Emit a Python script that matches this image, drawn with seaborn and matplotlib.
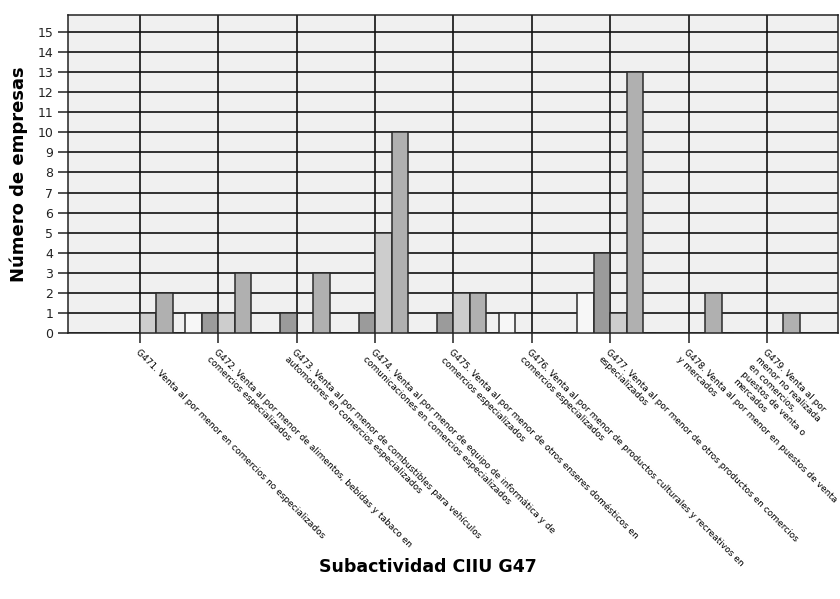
import matplotlib
matplotlib.use('Agg')
import matplotlib.pyplot as plt
import seaborn as sns
import pandas as pd

# categorias del eje x (subactividad CIIU G47)
subactividades = [
    'G471. Venta al por menor en comercios no especializados',
    'G472. Venta al por menor de alimentos, bebidas y tabaco en\ncomercios especializados',
    'G473. Venta al por menor de combustibles para vehículos\nautomotores en comercios especializados',
    'G474. Venta al por menor de equipo de informática y de\ncomunicaciones en comercios especializados',
    'G475. Venta al por menor de otros enseres domésticos en\ncomercios especializados',
    'G476. Venta al por menor de productos culturales y recreativos en\ncomercios especializados',
    'G477. Venta al por menor de otros productos en comercios\nespecializados',
    'G478. Venta al por menor en puestos de venta\ny mercados',
    'G479. Venta al por\nmenor no realizada\nen comercios,\npuestos de venta o\nmercados',
]
grupos = ['Grupo 1', 'Grupo 2', 'Grupo 3', 'Grupo 4']

# numero de empresas por grupo
serie_1 = [0, 1, 0, 0, 0, 1, 2, 0, 0]
serie_2 = [0, 1, 1, 1, 1, 0, 4, 0, 0]
serie_3 = [1, 1, 0, 5, 2, 0, 1, 0, 0]
serie_4 = [2, 3, 3, 10, 2, 0, 13, 2, 1]

colores = ['#F7F7F7', '#9B9B9B', '#CDCDCD', '#B0B0B0']

rows = []
for grupo, serie in zip(grupos, [serie_1, serie_2, serie_3, serie_4]):
    for sub, val in zip(subactividades, serie):
        rows.append({'subactividad': sub, 'grupo': grupo, 'empresas': val})
df = pd.DataFrame(rows)

fig = plt.figure(figsize=(8.4, 5.99), dpi=100)
ax = fig.add_axes([68 / 840, 1 - 333 / 599, (838 - 68) / 840, (333 - 15) / 599])
ax.set_facecolor('#F0F0F0')

sns.barplot(data=df, x='subactividad', y='empresas', hue='grupo',
            order=subactividades, hue_order=grupos, palette=colores,
            width=0.84, saturation=1, edgecolor='#2b2b2b', linewidth=1.1,
            legend=False, ax=ax, zorder=3)

ax.set_axisbelow(True)
ax.grid(True, axis='both', color='#111111', linewidth=1.2)
ax.set_ylim(0, 15.85)
ax.set_yticks(range(0, 16))
ax.set_xlim(-0.918, 8.906)
ax.set_xticks(range(len(subactividades)))
ax.set_xticklabels(subactividades, rotation=-45, ha='left', va='top',
                   rotation_mode='anchor', fontsize=6.5)

for s in ax.spines.values():
    s.set_color('#222222')
    s.set_linewidth(1.1)
ax.tick_params(axis='both', direction='out', length=7, color='#222222', width=1.1)
ax.tick_params(axis='y', labelsize=9, labelcolor='#222222')

ax.set_xlabel('')
ax.set_ylabel('Número de empresas', fontsize=13, fontweight='bold', labelpad=7)
fig.text(428 / 840, 1 - 567 / 599, 'Subactividad CIIU G47', fontsize=12.5,
         fontweight='bold', ha='center', va='center')

fig.savefig('out.png', dpi=100)
